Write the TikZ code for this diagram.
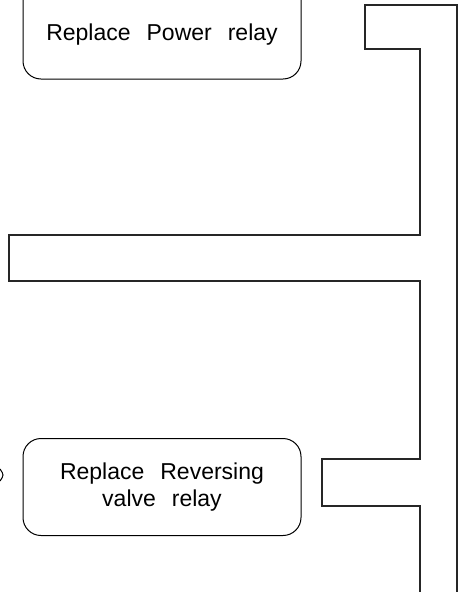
\documentclass[tikz,border=0pt]{standalone}
\usepackage{fontspec}
\setmainfont{Liberation Sans}
\usetikzlibrary{positioning}
\newcommand{\gap}{\hspace{16pt}}
\begin{document}
\begin{tikzpicture}[x=1pt,y=-1pt]
	
	% 定义样式
	\tikzset{
		relaybox/.style = {
			draw, line width=1pt,
			rounded corners=18pt,
			minimum width=278pt,
			inner sep=0pt, align=center,
			font=\fontsize{23}{27}\selectfont
		},
		pipe/.style = {
			line width=1.4pt, black!85,
			line join=miter
		}
	}
	
	% 参数设置
	\def \midx {162}
	\def \inner {420}
	\def \outer {457}
	
	\useasboundingbox (0,0) rectangle (461,592);
	\clip (0,0) rectangle (461,592);
	
	% 方框
	\node[relaybox, anchor=base, text height=72pt, text depth=39pt] (power) at (\midx,40) {Replace\gap Power\gap relay};
	\node[relaybox, minimum height=97pt] (reversing) at (\midx,487) {Replace\gap Reversing\\valve\gap relay};
	
	% 管道轮廓
	\draw[pipe] (\inner,600) -- (\inner,506) -- (322,506) -- (322,459) -- (\inner,459)
	-- (\inner,281) -- (9,281) -- (9,235) -- (\inner,235)
	-- (\inner,49) -- (365,49) -- (365,5) -- (\outer,5) -- (\outer,600);
	
	% 左侧残缺箭头
	\draw[line width=1pt] (0,469) .. controls (4,475) .. (0,481);
	
\end{tikzpicture}
\end{document}
